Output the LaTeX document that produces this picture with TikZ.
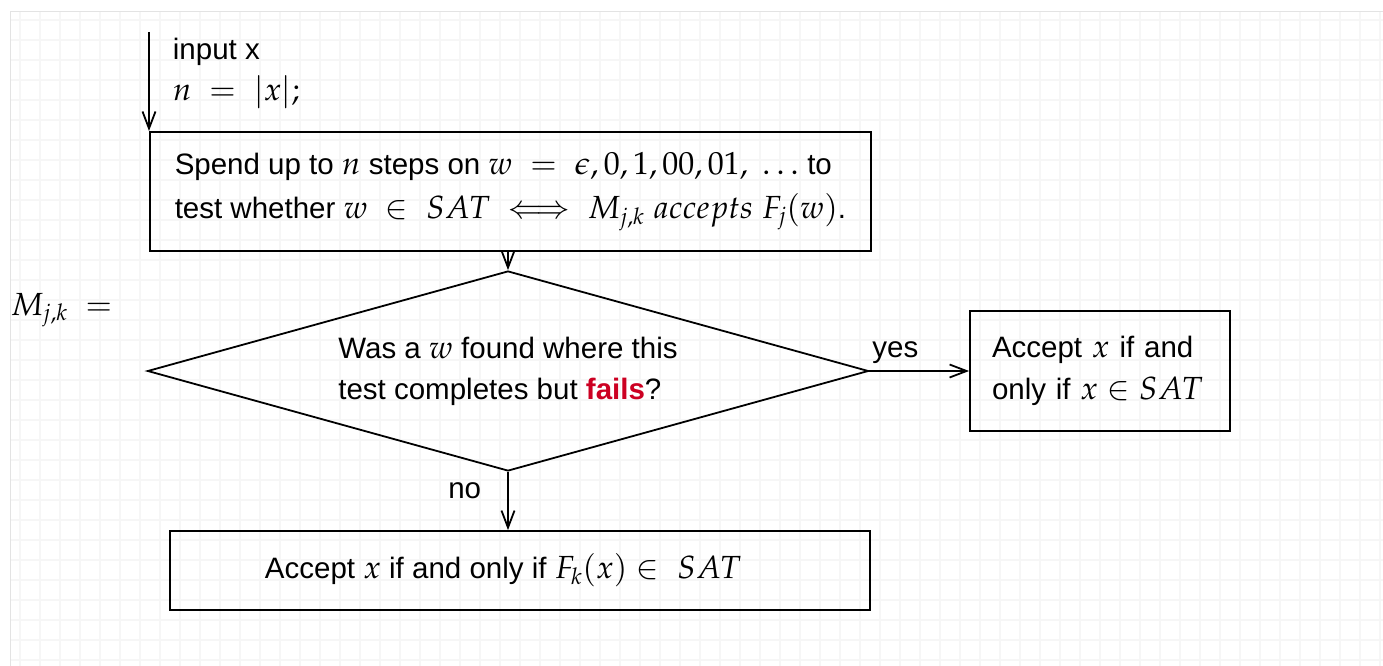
\documentclass[tikz,border=0pt]{standalone}
\usepackage{mathpazo}
\usepackage{fontspec}
\setmainfont{Liberation Sans}
\usetikzlibrary{arrows.meta,shapes.geometric}
\definecolor{failred}{RGB}{204,0,34}
\DeclareMathSizes{29.5}{32}{23}{18}
\begin{document}
\begin{tikzpicture}[x=1pt,y=-1pt,line width=1.8pt,>={Straight Barb[length=17pt,width=13pt]},
 box/.style={draw,rectangle,inner ysep=0pt,align=left},
 txt/.style={font=\fontsize{29.5}{34}\selectfont,inner sep=0pt}]
\useasboundingbox (0,0) rectangle (1383,666);
% background sheet
\draw[gray!7,line width=1.2pt] (10,12) grid[step=20pt] (1383,666);
\draw[gray!22,line width=1pt] (10,666) -- (10,12) -- (1383,12);
% texts and boxes
\node[txt,anchor=west] (inp) at (172,52) {input x}; \node[txt,anchor=west] (len) at (172,92) {$n\;=\;|x|;$};
\node[box,anchor=north west,minimum width=721,minimum height=119,inner xsep=0pt,font=\fontsize{29.5}{44}\selectfont] (spend) at (149,131)
 {Spend up to $n$ steps on $w\;=\;\epsilon,0,1,00,01,\;\ldots$ to\\test whether $w\;\in\;SAT\;\Longleftrightarrow\;M_{j,k}\;accepts\;F_j(w)$.};
\node[draw,diamond,aspect=3.6,minimum width=721,minimum height=200,inner sep=0pt,align=left,font=\fontsize{29.5}{41}\selectfont] (test) at (508,371)
 {Was a $w$ found where this\\test completes but \textcolor{failred}{\textbf{fails}}?};
\node[box,minimum width=260,minimum height=120,inner xsep=22pt,text width=216pt,font=\fontsize{29.5}{42}\selectfont] (acc1) at (1100,371) {Accept $x$ if and\\only if $x\in SAT$};
\node[box,minimum width=700,minimum height=79,inner xsep=0pt,font=\fontsize{29.5}{34}\selectfont] (acc2) at (520,570.5) {\hspace*{-34pt}Accept $x$ if and only if $F_k(x)\in\;SAT$};
\node[txt,anchor=west] (mjk) at (10,310) {$M_{j,k}\;=$};
% connectors
\coordinate (entry) at (149,32);
\draw[->] (entry) -- (spend.north west);
\draw[->] (test.north |- spend.south) -- (test.north);
\draw[->] (test.east) -- node[txt,pos=.26,above,yshift=6pt] (yes) {yes} (acc1.west);
\draw[->] (test.south) -- node[txt,pos=.32,left,xshift=-26pt] (no) {no} (test.south |- acc2.north);
\end{tikzpicture}
\end{document}
